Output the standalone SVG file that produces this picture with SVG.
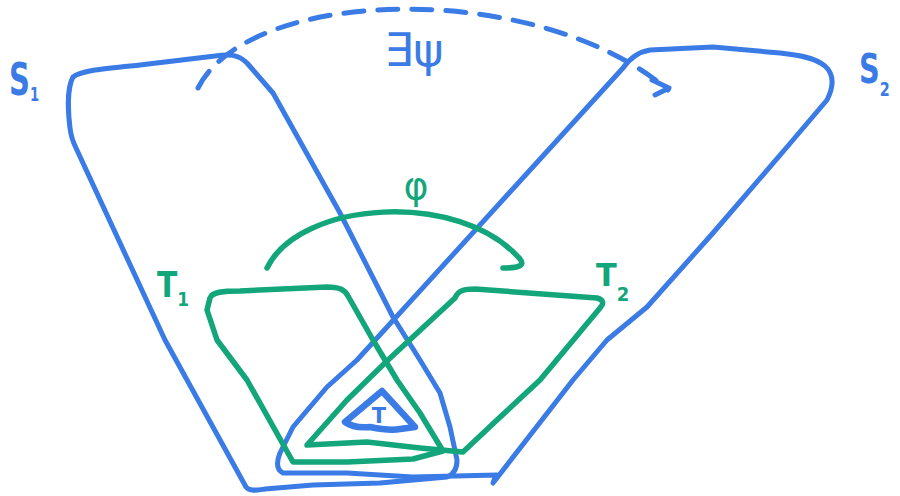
<svg xmlns="http://www.w3.org/2000/svg" width="900" height="496" viewBox="0 0 900 496">
<style>
.b{fill:none;stroke:#3a7be6;stroke-width:5;stroke-linecap:round;stroke-linejoin:round}
.g{fill:none;stroke:#13a67b;stroke-width:5.5;stroke-linecap:round;stroke-linejoin:round}
.bt{fill:#3a7be6;font-family:"DejaVu Sans","Liberation Sans",sans-serif;font-weight:bold}
.gt{fill:#13a67b;font-family:"DejaVu Sans","Liberation Sans",sans-serif;font-weight:bold}
.n{font-weight:normal}
</style>
<rect width="900" height="496" fill="#ffffff"/>
<g id="S1">
<path class="b" d="M247,63 C238,54 228,54 215,56 L140,65 C110,68 82,70 73,77 C67,88 68,112 70,128 C71,136 73,142 76,148 L165,340 L246,487 C250,492 258,490 265,489 L313,485 L380,483 L447,477 C455,474 457,468 457,460 L450,427 L440,393 L420,360 L393,317 L340,213 L273,93 Z"/>
<text class="bt" transform="translate(9,95) scale(0.66,1)" font-size="44">S<tspan dy="6" font-size="20">1</tspan></text>
</g>
<g id="S2">
<path class="b" d="M623,68 C630,58 638,52 650,50 L713,47 L780,53 C800,55 815,58 825,66 C835,75 833,88 827,100 L787,147 L713,233 L647,307 L607,340 L573,380 L493,483 C494,478 496,476 497,475 L413,477 L347,473 L283,473 C277,470 276,463 280,453 L293,427 L327,387 L357,360 Z"/>
<text class="bt" transform="translate(859,83) scale(0.72,1)" font-size="40">S<tspan dy="13" font-size="20">2</tspan></text>
</g>
<g id="T1">
<path class="g" d="M210,298 C212,292 222,291 240,291 L327,287 C340,287 345,290 348,296 L373,340 L397,380 L420,413 L443,451 L413,459 L347,462 L293,462 L247,380 L217,340 L207,310 Z"/>
<text class="gt" transform="translate(157,297) scale(0.85,1)" font-size="35">T<tspan dy="9" font-size="20">1</tspan></text>
</g>
<g id="T2">
<path class="g" d="M455,298 C458,290 465,289 475,289 L597,298 C604,300 604,304 600,308 L540,380 L497,420 L463,452 L420,448 L367,442 L307,445 L347,400 L388,360 Z"/>
<text class="gt" transform="translate(596,286) scale(0.95,1)" font-size="32">T<tspan dy="15" font-size="19">2</tspan></text>
</g>
<g id="T">
<path class="b" style="stroke-width:6.5" d="M382,391 L345,422 C352,427 360,428 370,427 C380,429 390,431 400,429 L415,427 Z"/>
<text class="bt" x="379" y="423" font-size="21" text-anchor="middle">T</text>
</g>
<g id="connectors">
<path class="b" stroke-dasharray="20 14" d="M198,88 C250,-15 540,-20 668,90"/>
<path class="b" d="M652,80 L669,88 L655,95"/>
<text class="bt n" x="414" y="66" font-size="46" text-anchor="middle">∃ψ</text>
<path class="g" d="M267,268 C300,200 460,190 520,259 C525,265 520,268 503,268"/>
<text class="gt n" x="416" y="199" font-size="38" text-anchor="middle">φ</text>
</g>
</svg>
